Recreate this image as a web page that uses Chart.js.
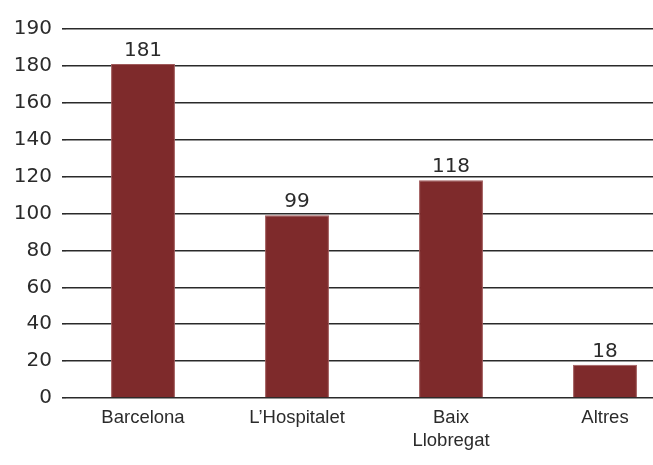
<!DOCTYPE html>
<html>
<head>
<meta charset="utf-8">
<script src="https://cdn.jsdelivr.net/npm/chart.js@4/dist/chart.umd.min.js"></script>
<style>
  html, body { margin: 0; padding: 0; background: #fff; overflow: hidden; }
  #wrap { width: 682px; height: 465px; }
</style>
</head>
<body>
<div id="wrap"><canvas id="chart" width="682" height="465"></canvas></div>
<script>
// Dades
const categories = ['Barcelona', 'L\u2019Hospitalet', ['Baix', 'Llobregat'], 'Altres'];
const values = [181, 99, 118, 18];
// Posicions de les línies de la graella i les etiquetes que hi apareixen
const tickValues = [0, 20, 40, 60, 80, 100, 120, 140, 160, 180, 200];
const tickLabels = ['0', '20', '40', '60', '80', '100', '120', '140', '160', '180', '190'];

// Etiquetes de valor damunt de cada barra
const valueLabels = {
  id: 'valueLabels',
  afterDatasetsDraw(chart) {
    const ctx = chart.ctx;
    const meta = chart.getDatasetMeta(0);
    ctx.save();
    ctx.font = '20px "DejaVu Sans", Verdana, sans-serif';
    ctx.fillStyle = '#2b2b2b';
    ctx.textAlign = 'center';
    ctx.textBaseline = 'alphabetic';
    meta.data.forEach((bar, i) => {
      ctx.fillText(String(values[i]), bar.x, bar.y - 8);
    });
    ctx.restore();
  }
};

new Chart(document.getElementById('chart'), {
  type: 'bar',
  data: {
    labels: categories,
    datasets: [{
      data: values,
      backgroundColor: '#7e2a2b',
      borderColor: '#a05a5b',
      borderWidth: 1,
      categoryPercentage: 1,
      barPercentage: 0.415
    }]
  },
  options: {
    responsive: false,
    animation: false,
    layout: { padding: { top: 29, right: 0, left: 0, bottom: 0 } },
    plugins: { legend: { display: false }, tooltip: { enabled: false } },
    scales: {
      x: {
        grid: { display: false },
        border: { display: false },
        ticks: {
          color: '#2b2b2b',
          padding: 0,
          font: { family: '"Liberation Sans", Arial, sans-serif', size: 18.5, lineHeight: 1.25 },
          maxRotation: 0,
          autoSkip: false
        },
        afterFit(scale) { scale.height = 67; }
      },
      y: {
        min: 0,
        max: 200,
        border: { display: false },
        grid: { color: '#2a2a2a', lineWidth: 1.6, tickLength: 4 },
        afterBuildTicks(scale) {
          scale.ticks = tickValues.map(v => ({ value: v }));
        },
        ticks: {
          color: '#2b2b2b',
          padding: 10,
          font: { family: '"DejaVu Sans", Verdana, sans-serif', size: 20 },
          callback: (v, i) => tickLabels[i]
        },
        afterFit(scale) { scale.width = 66; }
      }
    }
  },
  plugins: [valueLabels]
});
</script>
</body>
</html>
